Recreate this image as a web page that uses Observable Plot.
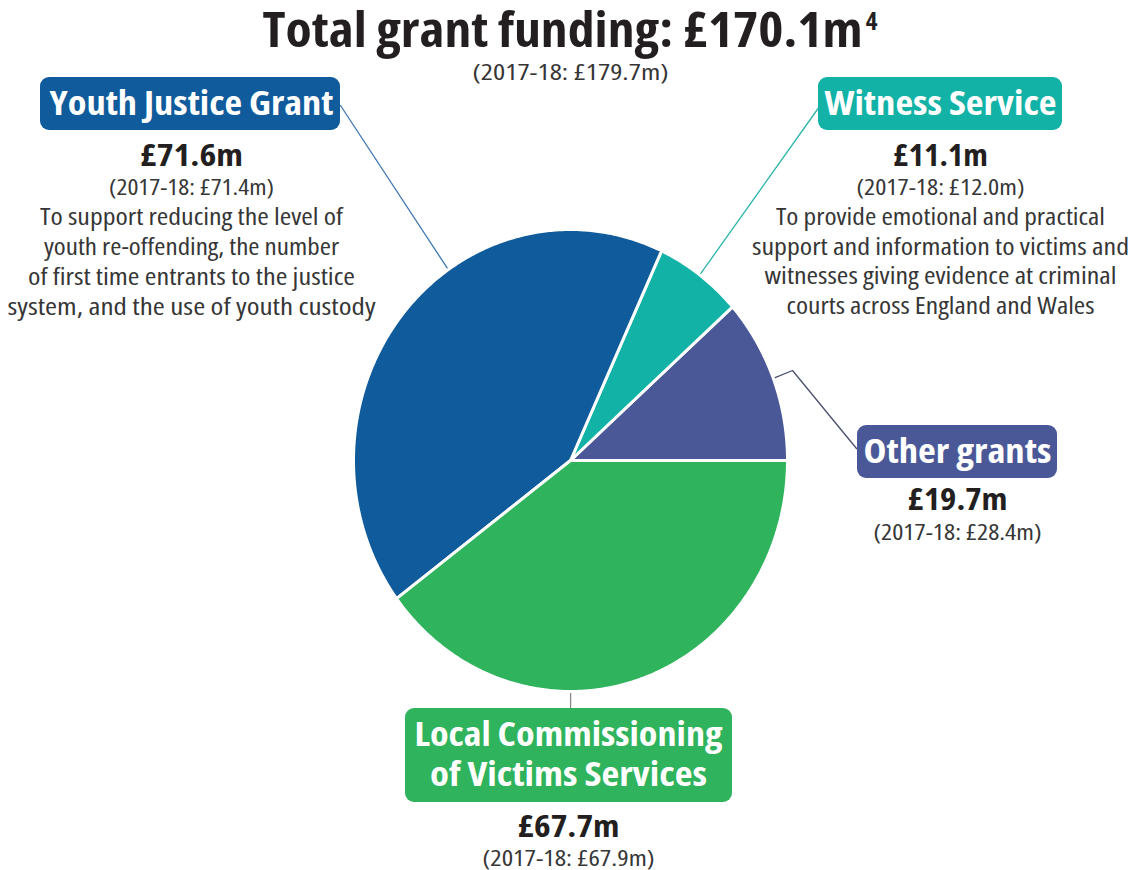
<!DOCTYPE html>
<html><head><meta charset="utf-8">
<script src="https://cdn.jsdelivr.net/npm/d3@7"></script>
<script src="https://cdn.jsdelivr.net/npm/@observablehq/plot@0.6"></script>
<style>html,body{margin:0;padding:0;background:#fff}svg{display:block}svg text{font-stretch:82%}</style>
</head><body><div id="chart"></div>
<script>
// ---------- DATA ----------
const categories = ["Other grants", "Witness Service", "Youth Justice Grant", "Local Commissioning of Victims Services"];
const labelLines = [["Other grants"], ["Witness Service"], ["Youth Justice Grant"], ["Local Commissioning", "of Victims Services"]];
const values201819 = [19.7, 11.1, 71.6, 67.7];
const values201718 = [28.4, 12.0, 71.4, 67.9];
const descriptions = [
  [],
  ["To provide emotional and practical", "support and information to victims and", "witnesses giving evidence at criminal", "courts across England and Wales"],
  ["To support reducing the level of", "youth re-offending, the number", "of first time entrants to the justice", "system, and the use of youth custody"],
  []
];
const totalNow = 170.1;
const totalPrev = 179.7;
const titleText = "Total grant funding: ";
const footnote = "4";

// ---------- STYLE / LAYOUT ----------
const FONT = "'Open Sans', 'Noto Sans', sans-serif";
const sliceColors = ["#4b5898", "#13b2a6", "#0f5b9b", "#2fb35c"];
const leaderColors = ["#4a4f6e", "#2bb5aa", "#3f78b0", "#8a8a8a"];
const DARK = "#231f20", GREY = "#363636";
const PIE = {cx: 570, cy: 460, rx: 217, ry: 231};
const layout = [
  { // Other grants
    box: {x1: 857, x2: 1057, y1: 425, y2: 478}, cx: 957,
    label: [{y: 452, w: 188}], value: {y: 500, w: 100}, prev: {y: 533, w: 168}, desc: [],
    leader: {f: 0.5, via: [[792, 370]], end: [856, 448]}
  },
  { // Witness
    box: {x1: 818, x2: 1062, y1: 77, y2: 130}, cx: 940,
    label: [{y: 104, w: 232}], value: {y: 156, w: 95}, prev: {y: 188, w: 168},
    desc: [{y: 217, w: 329}, {y: 247, w: 377}, {y: 276, w: 352}, {y: 306, w: 308}],
    leader: {f: 0.5, via: [], end: [819, 106]}
  },
  { // Youth
    box: {x1: 40, x2: 340, y1: 77, y2: 130}, cx: 191,
    label: [{y: 104, w: 284}], value: {y: 156, w: 103}, prev: {y: 188, w: 165},
    desc: [{y: 217, w: 303}, {y: 247, w: 295}, {y: 277, w: 327}, {y: 307, w: 368}],
    leader: {f: 0.39, via: [], end: [340, 105]}
  },
  { // Local
    box: {x1: 405, x2: 732, y1: 708, y2: 802}, cx: 568,
    label: [{y: 735, w: 308}, {y: 775, w: 277}], value: {y: 827, w: 102}, prev: {y: 859, w: 172}, desc: [],
    leader: {f: 0.372, via: [], end: "down", endY: 708}
  }
];

// ---------- BUILD ----------
const fmt = v => "£" + v.toFixed(1) + "m";
const slices = categories.map((name, i) => ({name, value: values201819[i]}));
const arcs = d3.pie().sort(null).value(d => d.value).startAngle(0).endAngle(2 * Math.PI)(slices);
const edge = t => [PIE.cx + PIE.rx * Math.cos(t), PIE.cy - PIE.ry * Math.sin(t)];

const piePts = [];
arcs.forEach(a => {
  piePts.push({name: a.data.name, x: PIE.cx, y: PIE.cy});
  const n = Math.max(2, Math.ceil((a.endAngle - a.startAngle) / (Math.PI / 360)));
  for (let k = 0; k <= n; k++) {
    const [x, y] = edge(a.startAngle + (a.endAngle - a.startAngle) * k / n);
    piePts.push({name: a.data.name, x, y});
  }
});

const leaders = [];
arcs.forEach((a, i) => {
  const L = layout[i].leader;
  const t = a.startAngle + (a.endAngle - a.startAngle) * L.f;
  const [x0, y0] = edge(t);
  leaders.push({name: a.data.name, x: x0, y: y0});
  L.via.forEach(([x, y]) => leaders.push({name: a.data.name, x, y}));
  if (L.end === "down") leaders.push({name: a.data.name, x: x0, y: L.endY});
  else leaders.push({name: a.data.name, x: L.end[0], y: L.end[1]});
});

const boxes = categories.map((name, i) => ({name, ...layout[i].box}));

const whiteText = [], boldText = [], normalText = [];
categories.forEach((name, i) => {
  const L = layout[i];
  labelLines[i].forEach((t, j) => whiteText.push({t, x: L.cx, y: L.label[j].y, size: 34, w: L.label[j].w}));
  boldText.push({t: fmt(values201819[i]), x: L.cx, y: L.value.y, size: 30, w: L.value.w});
  normalText.push({t: "(2017-18: " + fmt(values201718[i]) + ")", x: L.cx, y: L.prev.y, size: 21, w: L.prev.w});
  descriptions[i].forEach((t, j) => normalText.push({t, x: L.cx, y: L.desc[j].y, size: 23, w: L.desc[j].w}));
});
boldText.push({t: titleText + fmt(totalNow), x: 562, y: 31, size: 49, w: 600});
normalText.push({t: "(2017-18: " + fmt(totalPrev) + ")", x: 570, y: 73, size: 21, w: 196});
const supText = [{t: footnote, x: 871, y: 21, size: 25}];

const leaderMarks = categories.map((name, i) =>
  Plot.line(leaders.filter(d => d.name === name), {x: "x", y: "y", stroke: leaderColors[i], strokeWidth: 1.3}));

const txt = (data, label, fill, weight) => Plot.text(data, {
  x: "x", y: "y", text: "t", fontSize: "size", fill, fontWeight: weight,
  textAnchor: "middle", lineAnchor: "middle", ariaLabel: () => label
});

const chart = Plot.plot({
  width: 1132, height: 870, margin: 0,
  x: {type: "identity", axis: null},
  y: {type: "identity", axis: null},
  color: {domain: categories, range: sliceColors},
  style: {fontFamily: FONT, background: "#fff", overflow: "visible"},
  marks: [
    ...leaderMarks,
    Plot.line(piePts, {x: "x", y: "y", z: "name", fill: "name", stroke: "#fff", strokeWidth: 3, strokeLinejoin: "round", curve: "linear-closed"}),
    Plot.rect(boxes, {x1: "x1", x2: "x2", y1: "y1", y2: "y2", fill: "name", rx: 9}),
    txt(whiteText, "t-white", "#fff", "bold"),
    txt(boldText, "t-bold", DARK, "bold"),
    txt(normalText, "t-normal", GREY, "normal"),
    txt(supText, "t-sup", DARK, "bold")
  ]
});
document.getElementById("chart").appendChild(chart);

// condense glyphs to match the reference's narrow typeface
[["t-white", whiteText], ["t-bold", boldText], ["t-normal", normalText]].forEach(([lab, items]) => {
  let els = Array.from(chart.querySelectorAll(`text[aria-label="${lab}"]`));
  if (!els.length) {
    els = items.map(it => Array.from(chart.querySelectorAll("text")).find(e => e.textContent === it.t));
  }
  els.forEach((el, i) => {
    if (el && items[i] && items[i].w) {
      el.setAttribute("textLength", items[i].w);
      el.setAttribute("lengthAdjust", "spacingAndGlyphs");
    }
  });
});
</script>
</body></html>
